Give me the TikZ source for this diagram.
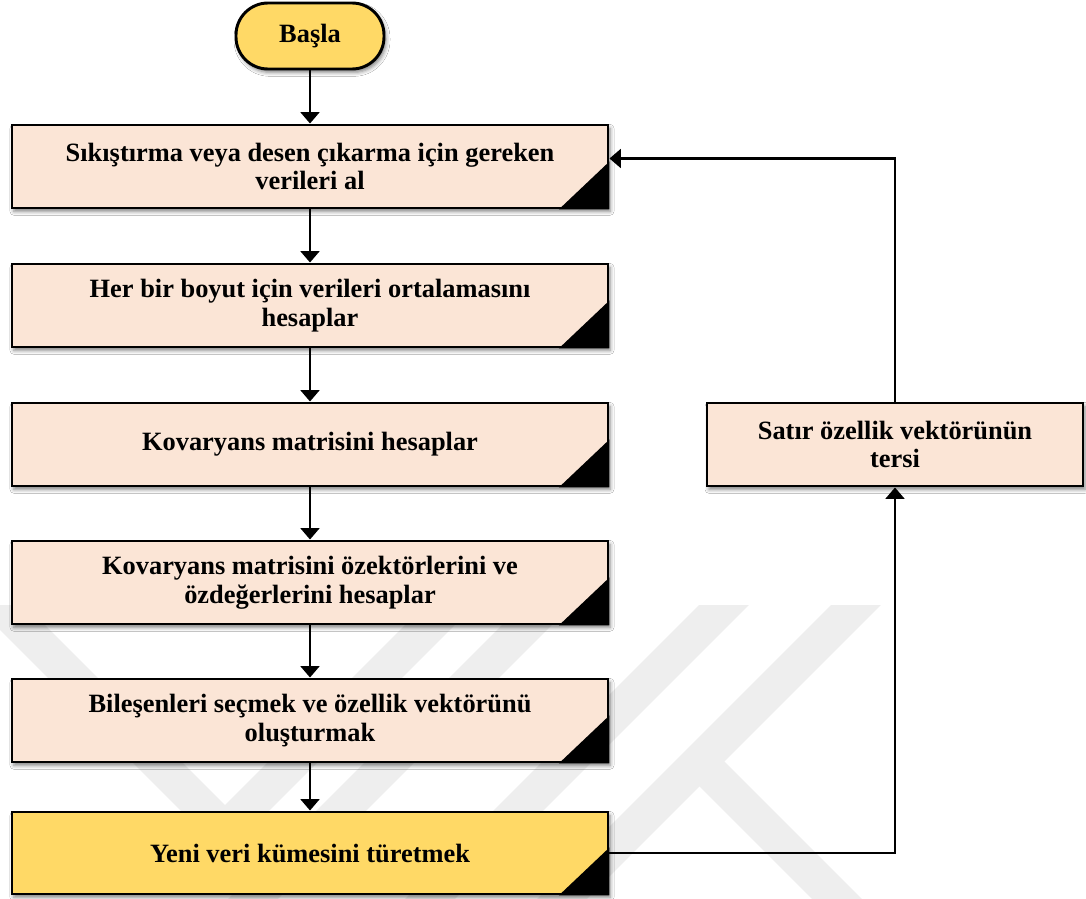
\documentclass[tikz,border=0pt]{standalone}
\usepackage{fontspec}
\setmainfont{Liberation Serif}
\usetikzlibrary{arrows.meta,shadows.blur,calc}

\definecolor{peach}{HTML}{FBE5D6}
\definecolor{gold}{HTML}{FFD966}
\definecolor{wmark}{HTML}{EEEEEE}

\newcommand\boxfont{\fontsize{19.8}{21.5}\selectfont\bfseries}

\tikzset{
  softshadow/.style={blur shadow={shadow xshift=1.5pt, shadow yshift=-2.5pt,
      shadow blur radius=3pt, shadow opacity=50}},
  box/.style={draw=black, line width=2.2pt, fill=peach, inner sep=0pt,
      minimum width=447pt, minimum height=62.25pt, align=center,
      font=\boxfont, softshadow},
  sidebox/.style={box, minimum width=282pt},
  keybox/.style={box, fill=gold, minimum height=61.5pt},
  startbox/.style={draw=black, line width=2.2pt, fill=gold, inner sep=0pt,
      minimum width=111pt, minimum height=49.5pt, rounded corners=24pt,
      font=\boxfont, softshadow},
  conn/.style={line width=2pt, -{Triangle[length=8.5pt,width=14pt]}},
  band/.style={wmark, line width=26.5pt, line join=miter}
}

\begin{document}
\begin{tikzpicture}[x=0.75pt, y=-0.75pt]
  \fill[white] (0,0) rectangle (1086,899);
  \useasboundingbox (0,0) rectangle (1086,899);

  % faint background emblem
  \begin{scope}
    \clip (0,605) rectangle (1086,899);
    \draw[band] (-25,580) -- (225,830) -- (475,580);
    \draw[band] (600,552) -- (200,952);
    \draw[band] (760,569) -- (400,929);
    \draw[band] (900,561) -- (500,961);
    \draw[band] (699.5,761.5) -- (900,962);
  \end{scope}

  % process steps
  \node[startbox] (start) at (310,36) {Başla};
  \node[box] (b1) at (310,166.5) {Sıkıştırma veya desen çıkarma için gereken\\verileri al};
  \node[box] (b2) at (310,305.5) {Her bir boyut için verileri ortalamasını\\hesaplar};
  \node[box] (b3) at (310,444.5) {Kovaryans matrisini hesaplar};
  \node[box] (b4) at (310,582.5) {Kovaryans matrisini özektörlerini ve\\özdeğerlerini hesaplar};
  \node[box] (b5) at (310,720.5) {Bileşenleri seçmek ve özellik vektörünü\\oluşturmak};
  \node[keybox] (b6) at (310,853) {Yeni veri kümesini türetmek};
  \node[sidebox] (r) at (895,444.5) {Satır özellik vektörünün\\tersi};

  % black corner marks
  \foreach \n in {b1,b2,b3,b4,b5,b6}
    \fill (\n.south east) -- ([yshift=36pt]\n.south east)
          -- ([xshift=-38pt]\n.south east) -- cycle;

  % main flow
  \draw[conn] (start.south) -- (b1.north);
  \draw[conn] (b1.south) -- (b2.north);
  \draw[conn] (b2.south) -- (b3.north);
  \draw[conn] (b3.south) -- (b4.north);
  \draw[conn] (b4.south) -- (b5.north);
  \draw[conn] (b5.south) -- (b6.north);

  % feedback loop
  \draw[conn] (b6.east) -| (r.south);
  \draw[conn] (r.north) |- ($(b1.east)+(0,-8)$);
\end{tikzpicture}
\end{document}
